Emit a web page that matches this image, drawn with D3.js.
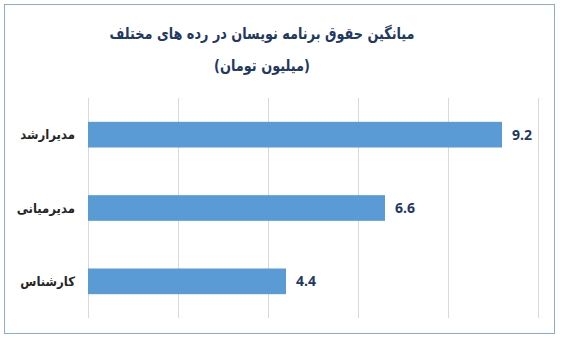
<!DOCTYPE html>
<script src="https://d3js.org/d3.v7.min.js"></script>
<style>
  body { margin: 0; background: #fff; }
</style>
<body>
<script>
var categories = ["مدیرارشد", "مدیرمیانی", "کارشناس"];
var values = [9.2, 6.6, 4.4];
var ticks = [0, 2, 4, 6, 8, 10];
var titleLines = ["میانگین حقوق برنامه نویسان در رده های مختلف", "(میلیون تومان)"];
var titleWidths = [305, 96];

var width = 562, height = 342;
var margin = {top: 98, right: 24, bottom: 24, left: 88};

var svg = d3.select("body").append("svg")
    .attr("width", width)
    .attr("height", height)
    .style("font-family", "'DejaVu Sans', sans-serif");

svg.append("rect")
    .attr("x", 4.5).attr("y", 4.5)
    .attr("width", 550).attr("height", 329)
    .attr("fill", "#fff")
    .attr("stroke", "#8eaadb")
    .attr("stroke-width", 1);

var x = d3.scaleLinear().domain([0, 10]).range([margin.left, margin.left + 450]);
var y = d3.scaleBand().domain(categories).range([margin.top, 318]).paddingInner(0.65).paddingOuter(0.325);

// gridlines
svg.append("g")
  .selectAll("line")
  .data(ticks)
  .join("line")
    .attr("x1", d => Math.round(x(d)) + 0.5)
    .attr("x2", d => Math.round(x(d)) + 0.5)
    .attr("y1", margin.top)
    .attr("y2", 318)
    .attr("stroke", "#d9d9d9")
    .attr("stroke-width", 1);

// title
svg.append("g")
  .selectAll("text")
  .data(titleLines)
  .join("text")
    .attr("x", 262)
    .attr("y", (d, i) => 39 + i * 32)
    .attr("text-anchor", "middle")
    .attr("textLength", (d, i) => titleWidths[i])
    .attr("lengthAdjust", "spacingAndGlyphs")
    .attr("fill", "#1f3864")
    .style("font-size", "16px")
    .style("font-weight", "bold")
    .text(d => d);

// bars
svg.append("g")
  .selectAll("rect")
  .data(values)
  .join("rect")
    .attr("x", x(0))
    .attr("y", (d, i) => y(categories[i]))
    .attr("width", d => x(d) - x(0))
    .attr("height", y.bandwidth())
    .attr("fill", "#5b9bd5");

// value labels
svg.append("g")
  .selectAll("text")
  .data(values)
  .join("text")
    .attr("x", d => x(d) + 10)
    .attr("y", (d, i) => y(categories[i]) + y.bandwidth() / 2)
    .attr("dy", "0.35em")
    .attr("fill", "#1f3864")
    .style("font-family", "'Open Sans', sans-serif")
    .style("font-size", "14px")
    .style("font-weight", "bold")
    .text(d => d.toFixed(1));

// category labels
svg.append("g")
  .selectAll("text")
  .data(categories)
  .join("text")
    .attr("x", 75)
    .attr("y", d => y(d) + y.bandwidth() / 2)
    .attr("dy", "0.35em")
    .attr("text-anchor", "end")
    .attr("fill", "#262626")
    .style("font-family", "'DejaVu Sans Condensed', 'DejaVu Sans', sans-serif")
    .style("font-size", "13px")
    .style("font-weight", "bold")
    .text(d => d);
</script>
</body>
